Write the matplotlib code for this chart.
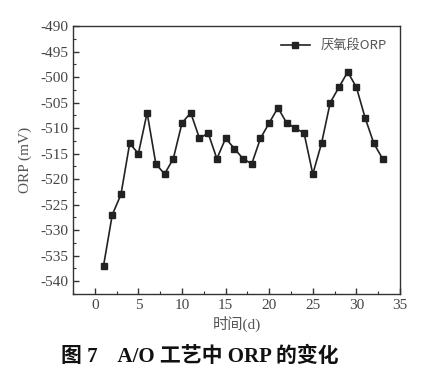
import matplotlib
matplotlib.use("Agg")
import matplotlib.pyplot as plt
from matplotlib.ticker import MultipleLocator

days = list(range(1, 34))
orp = [-537, -527, -523, -513, -515, -507, -517, -519, -516, -509, -507,
       -512, -511, -516, -512, -514, -516, -517, -512, -509, -506, -509,
       -510, -511, -519, -513, -505, -502, -499, -502, -508, -513, -516]
legend_label = "厌氧段ORP"
xlabel = "时间(d)"
ylabel = "ORP (mV)"
caption = "图 7    A/O 工艺中 ORP 的变化"

serif = ["Liberation Serif", "DejaVu Serif"]
cjk = ["Noto Sans CJK SC", "DejaVu Sans"]
serif_cjk = ["Liberation Serif", "Noto Sans CJK SC", "DejaVu Sans"]

plt.rcParams["font.family"] = serif
plt.rcParams["axes.unicode_minus"] = False

fig = plt.figure(figsize=(4.33, 3.82), dpi=100)
ax = fig.add_axes([73/433, 1-294/382, (400-73)/433, (294-26)/382])

ax.plot(days, orp, color="#222222", lw=1.2, marker="s", ms=4.5,
        mfc="#222222", mec="#222222", label=legend_label)

ax.set_xlim(-2.5, 35)
ax.set_ylim(-542.5, -490)
ax.xaxis.set_major_locator(MultipleLocator(5))
ax.xaxis.set_minor_locator(MultipleLocator(2.5))
ax.yaxis.set_major_locator(MultipleLocator(5))
ax.yaxis.set_minor_locator(MultipleLocator(2.5))
ax.tick_params(which="both", direction="in", top=False, right=False,
               colors="#333333", labelcolor="#444444", labelsize=11)
ax.tick_params(which="major", length=4, width=1)
ax.tick_params(which="minor", length=2, width=0.8)
for s in ax.spines.values():
    s.set_color("#333333")
    s.set_linewidth(1.0)

ax.set_xlabel(xlabel, family=serif_cjk, fontsize=11, color="#555555", labelpad=3)
ax.set_ylabel(ylabel, family=serif_cjk, fontsize=11, color="#555555", labelpad=6)

leg = ax.legend(loc="upper right", frameon=False, prop={"family": cjk, "size": 9.5},
                handlelength=2.2, borderaxespad=0.6, labelcolor="#555555")

fig.text(0.462, 1-357/382, caption, ha="center", va="center",
         family=serif_cjk, fontsize=15, fontweight="bold", color="#111111")

fig.savefig("out.png", dpi=100, facecolor="white")
